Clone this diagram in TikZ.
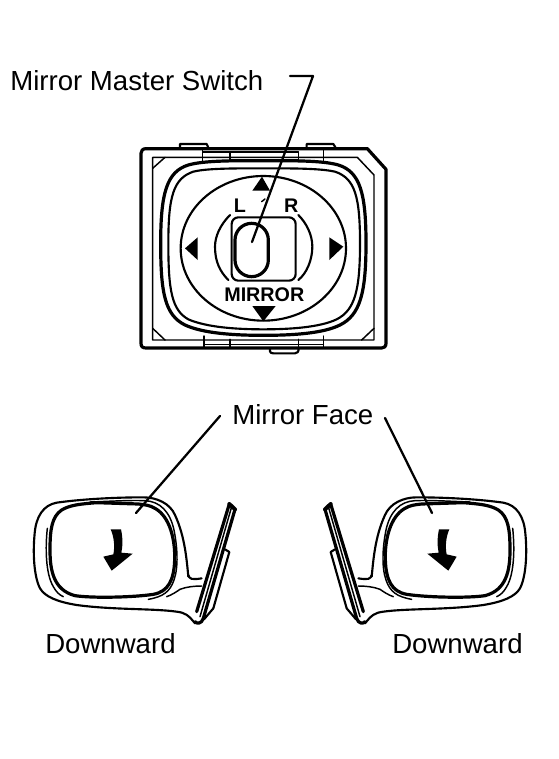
\documentclass[tikz,border=0pt]{standalone}
\usepackage{fontspec}
\setmainfont{Liberation Sans}
\tikzset{
  lab/.style={inner sep=0pt,font=\fontsize{20.7pt}{24pt}\selectfont,anchor=base west},
  blab/.style={inner sep=0pt,font=\fontsize{14.8pt}{16pt}\selectfont\bfseries,anchor=base},
  leader/.style={line width=1.7pt,line cap=round,line join=round},
  thin line/.style={line width=1.1pt,line join=round,line cap=round},
  med line/.style={line width=1.6pt,line join=round,line cap=round},
  thick line/.style={line width=2.4pt,line join=round,line cap=round},
  zoomed/.style={x=.25pt,y=-.25pt},
}
\newcommand{\mirrorbody}{%
  % housing
  \draw[med line] (505,290) .. controls (500,240) and (495,170) .. (465,105)
    .. controls (450,70) and (410,52) .. (370,52) .. controls (280,52) and (180,58) .. (110,68)
    .. controls (70,75) and (48,110) .. (44,160) .. controls (38,220) and (42,290) .. (60,325)
    .. controls (75,350) and (110,365) .. (170,375) .. controls (280,390) and (400,385) .. (470,395)
    .. controls (495,398) and (505,405) .. (525,430);
  \draw[thin line] (210,66) .. controls (270,64) and (330,60) .. (375,62)
    .. controls (420,64) and (450,95) .. (462,150) .. controls (472,200) and (476,260) .. (462,300)
    .. controls (450,335) and (430,350) .. (385,358);
  \draw[thin line] (82,145) .. controls (76,200) and (76,280) .. (100,320) .. controls (108,335) and (118,345) .. (130,350);
  % glass
  \draw[thick line] (355,72) -- (230,68) .. controls (180,72) and (150,75) .. (125,90)
    .. controls (95,110) and (90,150) .. (90,210) .. controls (90,270) and (100,330) .. (165,347)
    .. controls (220,355) and (340,352) .. (400,343) .. controls (445,335) and (462,300) .. (464,240)
    .. controls (466,180) and (450,110) .. (405,85) .. controls (390,76) and (375,74) .. (355,72);
  % stalk
  \draw[med line] (505,285) .. controls (508,297) and (515,300) .. (545,295);
  \draw[thin line] (480,328) .. controls (500,320) and (525,318) .. (545,318);
  \draw[thin line] (440,350) .. controls (455,345) and (470,335) .. (480,328);
  % mount
  \draw[thick line] (628,72) -- (530,395);
  \draw[thick line] (645,88) -- (550,415) .. controls (545,432) and (530,432) .. (525,425);
  \draw[line width=3pt,line cap=round] (628,72) -- (645,88);
  \draw[thin line] (635,80) -- (540,410);
  \draw[med line] (615,208) -- (628,216) -- (580,385);
  \draw[med line] (580,385) -- (552,418);
  % arrow
  \fill (272,148) -- (303,148) .. controls (309,175) and (308,200) .. (304,218) -- (338,221) -- (275,272) -- (250,230)
    -- (280,223) .. controls (285,200) and (282,170) .. (272,148) -- cycle;
}
\begin{document}
\begin{tikzpicture}[x=.75pt,y=-.75pt]
\useasboundingbox (0,0) rectangle (558,759);
\fill[white] (0,0) rectangle (558,759);

% Switch
\begin{scope}[shift={(130,130)},zoomed]
  \draw[line width=2.4pt,line join=round]
    (48,56) -- (712,56) -- (768,118) -- (768,640) .. controls (768,650) and (762,654) .. (755,654) -- (48,654)
    .. controls (38,654) and (33,650) .. (33,640) -- (33,70) .. controls (33,62) and (38,56) .. (48,56) -- cycle;
  \draw[thin line] (68,82) -- (682,82) -- (732,135) -- (732,630) -- (68,630) -- cycle;
  \draw[thin line] (68,115) -- (105,82) (68,595) -- (105,630) (695,630) -- (732,595);
  % tabs
  \draw[med line] (150,55) -- (150,42) -- (230,42) -- (236,55);
  \draw[med line] (530,55) -- (530,42) -- (610,42) -- (618,55);
  \draw[thin line] (218,56) -- (218,95) (300,66) -- (300,92) (505,66) -- (505,92) (580,56) -- (580,92);
  \draw[thin line] (218,66) -- (505,66) (300,90) -- (505,90);
  \draw[thin line] (222,618) -- (222,654) (300,628) -- (300,654) (505,628) -- (505,654) (580,618) -- (580,654);
  \draw[thin line] (222,644) -- (580,644);
  \draw[med line] (420,654) -- (420,664) .. controls (420,668) and (424,670) .. (430,670) -- (495,670) .. controls (502,670) and (506,666) .. (506,654);
  % bezel
  \draw[line width=2.4pt] (400,92) .. controls (300,92) and (220,92) .. (175,105)
    .. controls (110,125) and (92,190) .. (92,340) .. controls (92,490) and (105,555) .. (165,585)
    .. controls (220,610) and (310,616) .. (400,616) .. controls (490,616) and (580,610) .. (630,585)
    .. controls (690,555) and (708,490) .. (708,340) .. controls (708,190) and (690,125) .. (625,105)
    .. controls (580,92) and (500,92) .. (400,92) -- cycle;
  \draw[med line] (400,115) .. controls (310,115) and (230,115) .. (190,125)
    .. controls (130,145) and (115,200) .. (115,340) .. controls (115,480) and (125,540) .. (175,568)
    .. controls (230,592) and (320,598) .. (400,598) .. controls (480,598) and (570,592) .. (620,568)
    .. controls (675,540) and (690,480) .. (690,340) .. controls (690,200) and (675,145) .. (615,125)
    .. controls (570,115) and (490,115) .. (400,115) -- cycle;
  % dial
  \draw[med line] (400,355) ellipse [x radius=248,y radius=217];
  \draw[med line] (300,255) .. controls (270,285) and (255,320) .. (255,350) .. controls (255,395) and (270,425) .. (295,450);
  \draw[med line] (505,255) .. controls (530,280) and (547,315) .. (547,350) .. controls (547,390) and (530,430) .. (505,450);
  \draw[line width=1.6pt,rounded corners=5pt] (305,262) rectangle (497,452);
  \draw[line width=2.4pt,rounded corners=12.5pt] (315,280) rectangle (415,440);
  % arrowheads
  \fill (367,182) -- (396,140) -- (420,182) -- cycle;
  \fill (165,355) -- (203,322) -- (203,390) -- cycle;
  \fill (640,350) -- (598,322) -- (598,390) -- cycle;
  \fill (367,528) -- (437,528) -- (400,574) -- cycle;
  \draw[thin line] (395,215) -- (405,207);
  % letters
  \node[blab] (letterL) at (330,248) {L};
  \node[blab] (letterR) at (484,248) {R};
  \node[blab] (mirrorlab) at (403,514) {MIRROR};
\end{scope}

% Mirrors
\begin{scope}[shift={(20,480)},zoomed]\mirrorbody\end{scope}
\begin{scope}[shift={(540,480)},zoomed,x=-.25pt]\mirrorbody\end{scope}

% Labels
\node[lab] (switchlab) at (10,91) {Mirror Master Switch};
\node[lab] (facelab) at (232,424) {Mirror Face};
\node[lab] (downL) at (45,653) {Downward};
\node[lab] (downR) at (392,653) {Downward};

% Leaders
\coordinate (sw0) at (290,76);
\coordinate (sw1) at (313,76);
\coordinate (sw2) at (252,242);
\coordinate (fl0) at (220,416);
\coordinate (fl1) at (136,513);
\coordinate (fr0) at (385,418);
\coordinate (fr1) at (432,513);
\draw[leader] (sw0) -- (sw1) -- (sw2);
\draw[leader] (fl0) -- (fl1);
\draw[leader] (fr0) -- (fr1);
\end{tikzpicture}
\end{document}
